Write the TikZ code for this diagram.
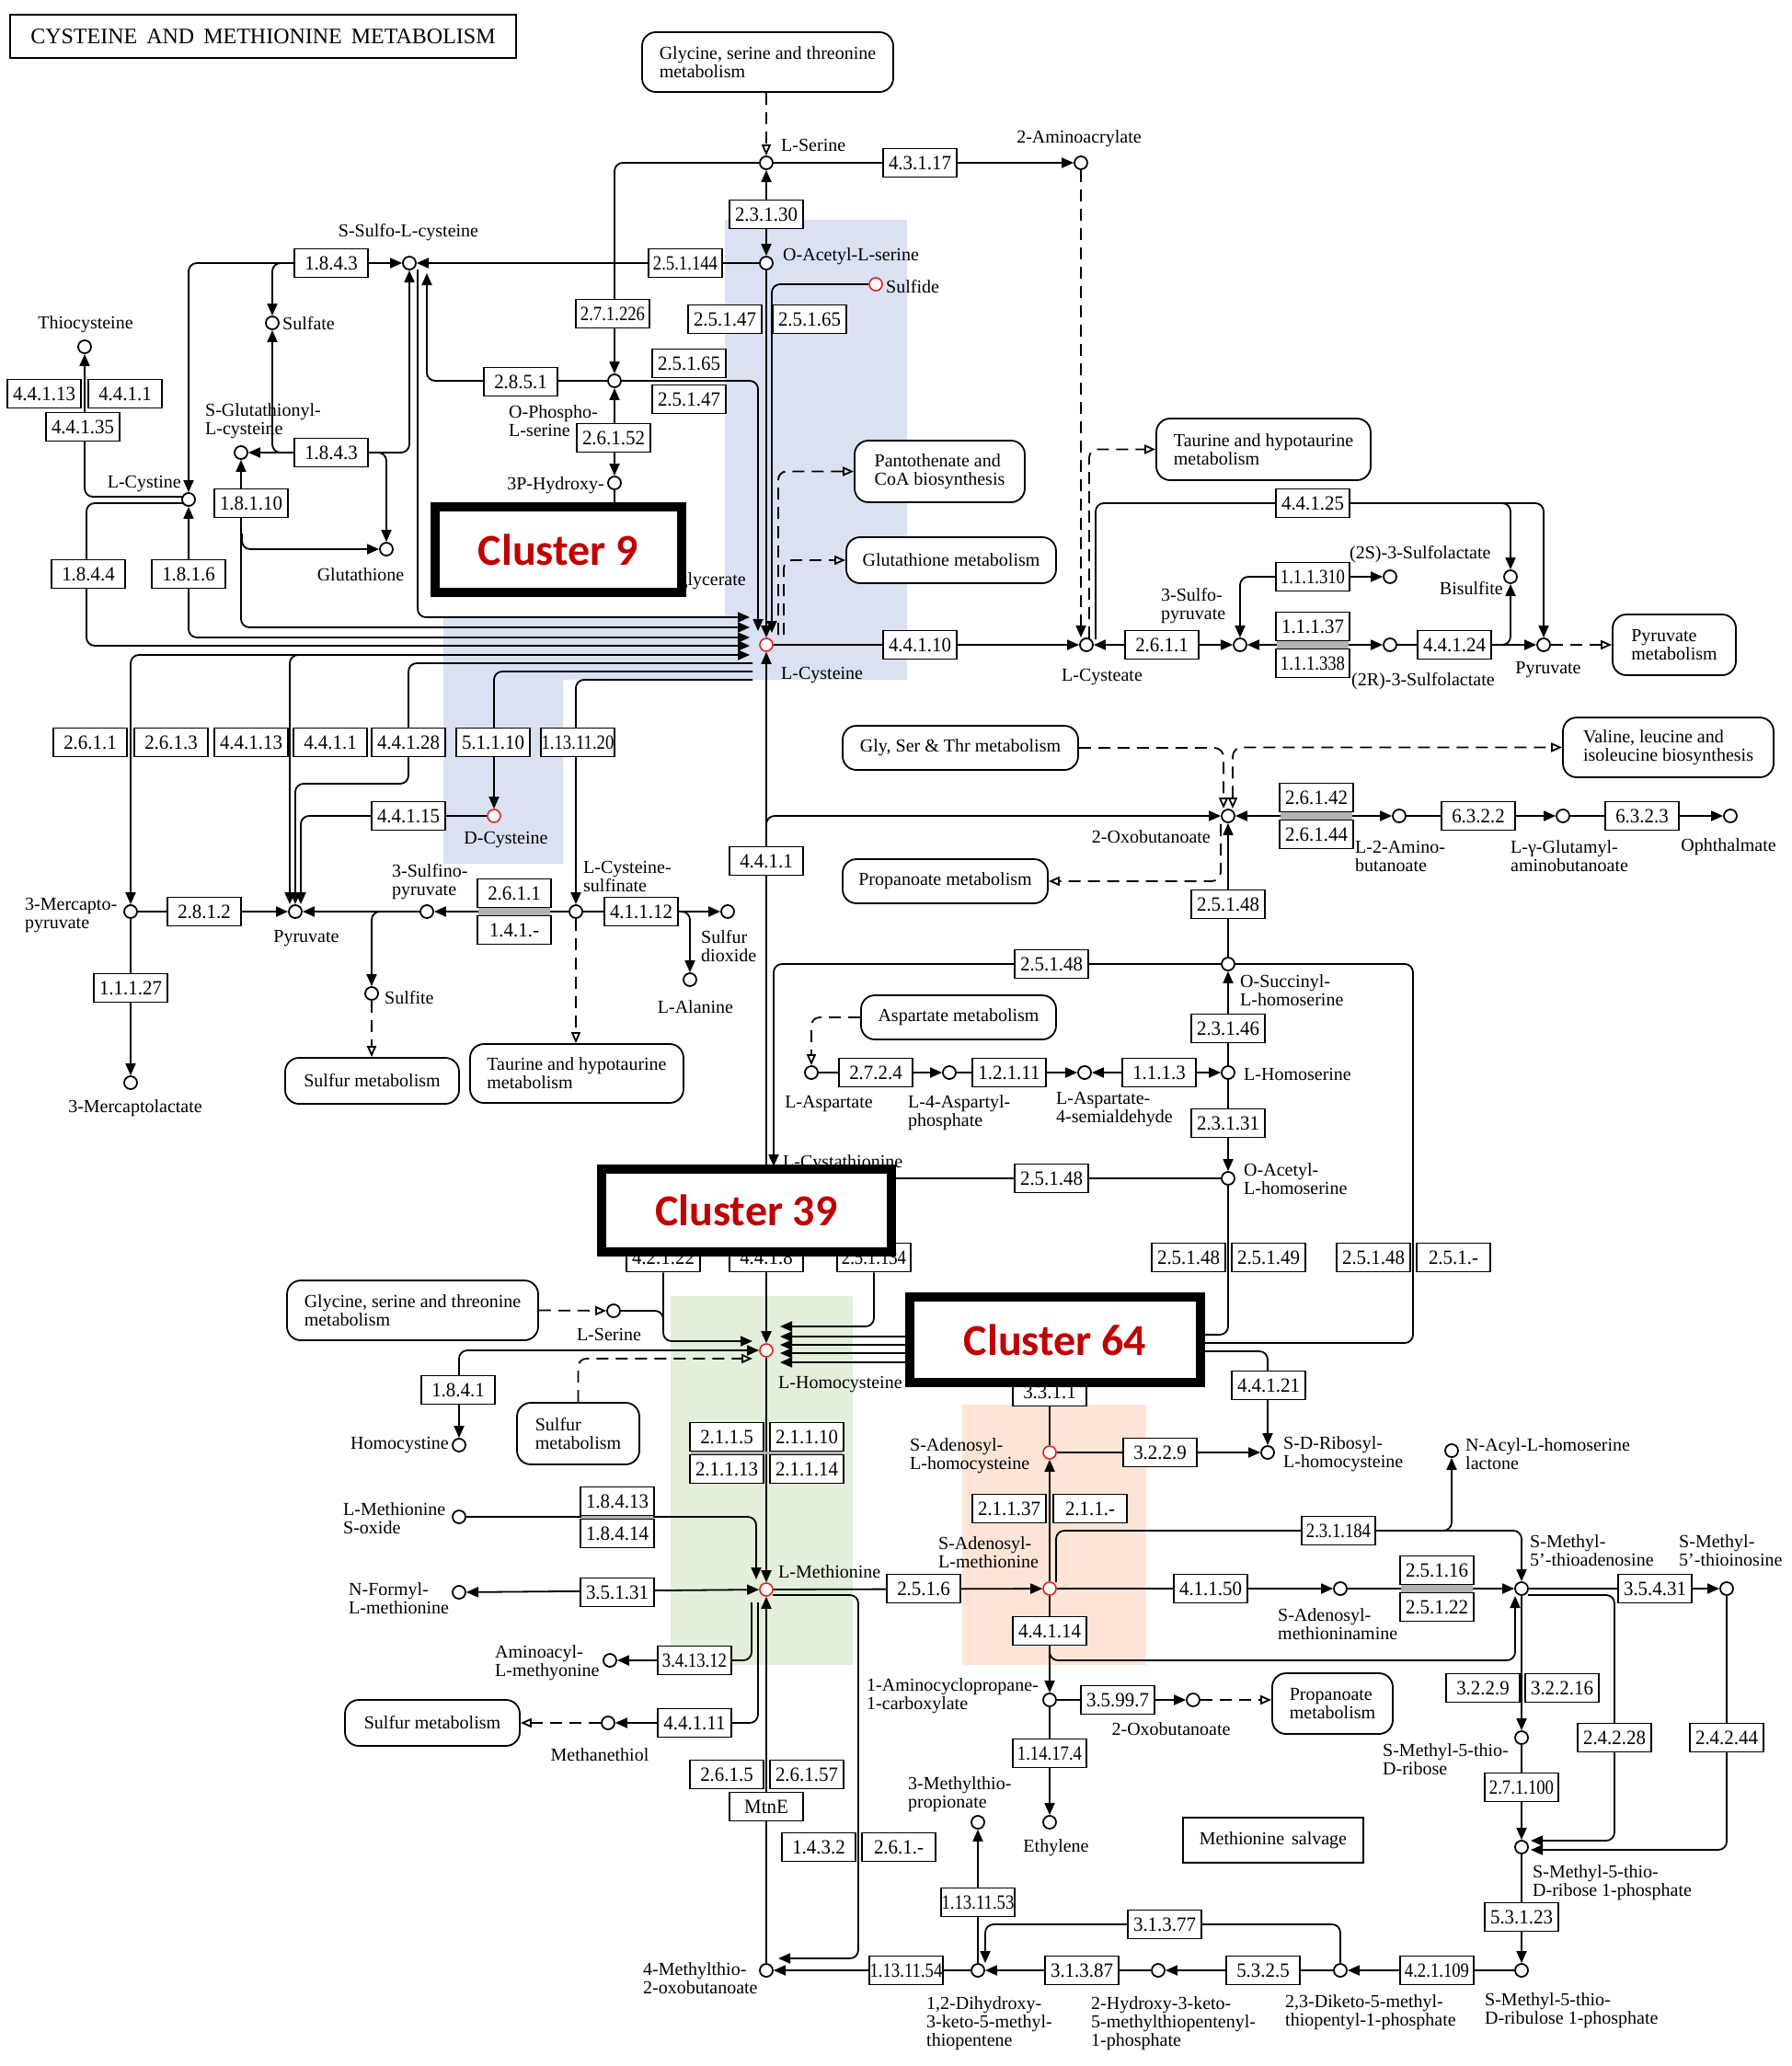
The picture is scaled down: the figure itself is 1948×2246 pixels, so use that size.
\documentclass[tikz,border=0pt]{standalone}
\usepackage{fontspec}
\setmainfont{Liberation Serif}
\newfontfamily\ecnorm{Liberation Serif}[FakeStretch=0.95]
\newfontfamily\ecnarr{Liberation Serif}[FakeStretch=0.85]
\newfontfamily\clfont{Carlito}
\usetikzlibrary{arrows.meta}
\definecolor{shblue}{RGB}{217,225,242}
\definecolor{shgreen}{RGB}{226,239,218}
\definecolor{shorange}{RGB}{252,228,214}
\definecolor{clred}{RGB}{192,0,0}
\definecolor{cpdred}{RGB}{230,30,30}
\pgfdeclarelayer{shade}
\pgfdeclarelayer{lines}
\pgfdeclarelayer{top}
\pgfsetlayers{shade,lines,main,top}
\tikzset{
  cpd/.style={circle,draw,line width=1.8pt,fill=white,minimum size=14pt,inner sep=0pt},
  rcpd/.style={cpd,draw=cpdred,line width=1.6pt},
  ec/.style={draw,line width=1.6pt,fill=white,minimum width=80pt,minimum height=31pt,inner sep=0pt,font=\ecnorm\fontsize{22}{22}\selectfont},
  ecn/.style={ec,font=\ecnarr\fontsize{22}{22}\selectfont},
  pbox/.style={draw,line width=1.8pt,rounded corners=15pt,fill=white,align=left,inner sep=0pt,font=\fontsize{20}{20}\selectfont},
  lab/.style={inner sep=0pt,align=left,font=\fontsize{20}{20}\selectfont},
  labr/.style={lab,align=right},
  labc/.style={lab,align=center},
  ln/.style={line width=1.8pt,rounded corners=9pt},
  dsh/.style={ln,dash pattern=on 13pt off 8pt},
  ar/.style={-{Triangle[length=13pt,width=11pt]}},
  ra/.style={{Triangle[length=13pt,width=11pt]}-},
  br/.style={{Triangle[length=13pt,width=11pt]}-{Triangle[length=13pt,width=11pt]}},
  oa/.style={-{Triangle[open,length=12pt,width=10pt]}},
  ob/.style={{Triangle[open,length=12pt,width=10pt]}-{Triangle[open,length=12pt,width=10pt]}},
  cluster/.style={draw,line width=10pt,fill=white,inner sep=0pt,font=\clfont\bfseries\fontsize{48}{48}\selectfont,text=clred},
}
\begin{document}
\begin{tikzpicture}[x=1pt,y=-1pt]
\useasboundingbox (0,0) rectangle (1948,2246);
\begin{pgfonlayer}{shade}
\fill[white] (0,0) rectangle (1948,2246);
\fill[shblue] (482,671) -- (788,671) -- (788,239) -- (986,239) -- (986,739) -- (612,739) -- (612,939) -- (482,939) -- cycle;
\fill[shgreen] (729,1409) rectangle (927,1810);
\fill[shorange] (1046,1527) rectangle (1246,1810);
\end{pgfonlayer}

% title
\node[draw,line width=2.5pt,minimum width=550pt,minimum height=47pt,inner sep=0pt,font=\fontsize{24}{24}\selectfont] (title) at (286,39.5) {CYSTEINE\hspace{10pt}AND\hspace{10pt}METHIONINE\hspace{10pt}METABOLISM};

% ---------- compounds ----------
\node[cpd] (ssulfo) at (445,286) {};
\node[cpd] (sulfate) at (296,351) {};
\node[cpd] (sglut) at (262,492) {};
\node[cpd] (gsh) at (420,597) {};
\node[cpd] (lcystine) at (205,543) {};
\node[cpd] (thiocys) at (92,377) {};
\node[cpd] (lser) at (833,177) {};
\node[cpd] (aacr) at (1175,177) {};
\node[cpd] (oas) at (833,286) {};
\node[rcpd] (sulfide) at (952,309) {};
\node[cpd] (ops) at (668,414) {};
\node[cpd] (php) at (668,525) {};
\node[rcpd] (lcys) at (833,701) {};
\node[cpd] (lcya) at (1181,701) {};
\node[cpd] (spyr) at (1348,701) {};
\node[cpd] (ssl) at (1511,627) {};
\node[cpd] (rsl) at (1511,701) {};
\node[cpd] (bisulf) at (1642,627) {};
\node[cpd] (pyr2) at (1678,701) {};
\node[rcpd] (dcys) at (537,887) {};
\node[cpd] (mpyr) at (142,991) {};
\node[cpd] (pyr1) at (321,991) {};
\node[cpd] (sfpyr) at (464,991) {};
\node[cpd] (csa) at (626,991) {};
\node[cpd] (so2) at (791,991) {};
\node[cpd] (lala) at (750,1065) {};
\node[cpd] (sulfite) at (404,1080) {};
\node[cpd] (mlac) at (142,1177) {};
\node[cpd] (oxb1) at (1335,887) {};
\node[cpd] (abut) at (1521,887) {};
\node[cpd] (gab) at (1699,887) {};
\node[cpd] (oph) at (1881,887) {};
\node[cpd] (osh) at (1335,1048) {};
\node[cpd] (lhs) at (1335,1166) {};
\node[cpd] (oah) at (1335,1281) {};
\node[cpd] (lasp) at (882,1166) {};
\node[cpd] (asph) at (1032,1166) {};
\node[cpd] (assa) at (1179,1166) {};
\node[cpd] (cysth) at (833,1281) {};
\node[cpd] (lser2) at (667,1425) {};
\node[rcpd] (hcys) at (833,1468) {};
\node[cpd] (hcyst) at (499,1571) {};
\node[rcpd] (sah) at (1141,1579) {};
\node[cpd] (srh) at (1378,1579) {};
\node[cpd] (nacyl) at (1578,1577) {};
\node[cpd] (metso) at (499,1649) {};
\node[rcpd] (met) at (833,1728) {};
\node[cpd] (fmet) at (499,1731) {};
\node[rcpd] (sam) at (1141,1727) {};
\node[cpd] (dsam) at (1457,1727) {};
\node[cpd] (mta) at (1654,1727) {};
\node[cpd] (mti) at (1877,1727) {};
\node[cpd] (aamet) at (663,1805) {};
\node[cpd] (msh) at (661,1873) {};
\node[cpd] (acc) at (1141,1848) {};
\node[cpd] (oxb2) at (1297,1848) {};
\node[cpd] (eth) at (1141,1981) {};
\node[cpd] (mtp) at (1063,1981) {};
\node[cpd] (mtob) at (833,2142) {};
\node[cpd] (dhk) at (1063,2142) {};
\node[cpd] (hk) at (1259,2142) {};
\node[cpd] (dk) at (1457,2142) {};
\node[cpd] (mtru) at (1654,2142) {};
\node[cpd] (mtr1p) at (1654,2008) {};
\node[cpd] (mtr) at (1654,1889) {};

% ---------- compound labels ----------
\node[labc] (t-ssulfo) at (444,253) {S-Sulfo-L-cysteine};
\node[lab,anchor=west] (t-sulfate) at (307,352) {Sulfate};
\node[lab,anchor=west] (t-sglut) at (223,458) {S-Glutathionyl-\\L-cysteine};
\node[labc] (t-gsh) at (392,625) {Glutathione};
\node[labr,anchor=east] (t-lcystine) at (197,526) {L-Cystine};
\node[labc] (t-thiocys) at (93,353) {Thiocysteine};
\node[lab,anchor=west] (t-lser) at (849,158) {L-Serine};
\node[labc] (t-aacr) at (1173,151) {2-Aminoacrylate};
\node[lab,anchor=west] (t-oas) at (851,279) {O-Acetyl-L-serine};
\node[lab,anchor=west] (t-sulfide) at (963,312) {Sulfide};
\node[lab,anchor=west] (t-ops) at (553,458) {O-Phospho-\\L-serine};
\node[labr,anchor=north east] (t-php) at (657,518) {3P-Hydroxy-\\[7pt]pyruvate};
\node[labr,anchor=east] (t-pga) at (811,632) {3-Phospho-D-glycerate};
\node[lab,anchor=west] (t-lcys) at (849,734) {L-Cysteine};
\node[labc] (t-lcya) at (1198,736) {L-Cysteate};
\node[lab,anchor=west] (t-spyr) at (1262,659) {3-Sulfo-\\pyruvate};
\node[lab,anchor=west] (t-ssl) at (1467,603) {(2S)-3-Sulfolactate};
\node[lab,anchor=west] (t-rsl) at (1469,741) {(2R)-3-Sulfolactate};
\node[labr,anchor=east] (t-bisulf) at (1634,640) {Bisulfite};
\node[labc] (t-pyr2) at (1683,728) {Pyruvate};
\node[labc] (t-dcys) at (550,913) {D-Cysteine};
\node[lab,anchor=west] (t-mpyr) at (27,995) {3-Mercapto-\\pyruvate};
\node[labc] (t-pyr1) at (333,1020) {Pyruvate};
\node[lab,anchor=west] (t-sfpyr) at (426,959) {3-Sulfino-\\pyruvate};
\node[lab,anchor=west] (t-csa) at (634,953) {L-Cysteine-\\sulfinate};
\node[lab,anchor=west] (t-so2) at (762,1029) {Sulfur\\dioxide};
\node[labc] (t-lala) at (756,1095) {L-Alanine};
\node[lab,anchor=west] (t-sulfite) at (418,1085) {Sulfite};
\node[labc] (t-mlac) at (147,1205) {3-Mercaptolactate};
\node[labr,anchor=east] (t-oxb1) at (1316,910) {2-Oxobutanoate};
\node[lab,anchor=west] (t-abut) at (1473,931) {L-2-Amino-\\butanoate};
\node[lab,anchor=west] (t-gab) at (1642,931) {L-γ-Glutamyl-\\aminobutanoate};
\node[labc] (t-oph) at (1879,921) {Ophthalmate};
\node[lab,anchor=west] (t-osh) at (1348,1077) {O-Succinyl-\\L-homoserine};
\node[lab,anchor=west] (t-lhs) at (1352,1168) {L-Homoserine};
\node[lab,anchor=west] (t-oah) at (1352,1282) {O-Acetyl-\\L-homoserine};
\node[labc] (t-lasp) at (901,1200) {L-Aspartate};
\node[lab,anchor=west] (t-asph) at (987,1210) {L-4-Aspartyl-\\phosphate};
\node[lab,anchor=west] (t-assa) at (1148,1206) {L-Aspartate-\\4-semialdehyde};
\node[lab,anchor=west] (t-cysth) at (851,1265) {L-Cystathionine};
\node[labc] (t-lser2) at (662,1451) {L-Serine};
\node[lab,anchor=west] (t-hcys) at (846,1505) {L-Homocysteine};
\node[labr,anchor=east] (t-hcyst) at (488,1571) {Homocystine};
\node[lab,anchor=west] (t-sah) at (989,1583) {S-Adenosyl-\\L-homocysteine};
\node[lab,anchor=west] (t-srh) at (1395,1581) {S-D-Ribosyl-\\L-homocysteine};
\node[lab,anchor=west] (t-nacyl) at (1593,1581) {N-Acyl-L-homoserine\\lactone};
\node[lab,anchor=west] (t-metso) at (373,1651) {L-Methionine\\S-oxide};
\node[lab,anchor=west] (t-met) at (846,1709) {L-Methionine};
\node[lab,anchor=west] (t-fmet) at (379,1738) {N-Formyl-\\L-methionine};
\node[lab,anchor=west] (t-sam) at (1020,1688) {S-Adenosyl-\\L-methionine};
\node[lab,anchor=west] (t-dsam) at (1389,1766) {S-Adenosyl-\\methioninamine};
\node[lab,anchor=west] (t-mta) at (1663,1686) {S-Methyl-\\5'-thioadenosine};
\node[lab,anchor=west] (t-mti) at (1825,1686) {S-Methyl-\\5'-thioinosine};
\node[lab,anchor=west] (t-aamet) at (538,1808) {Aminoacyl-\\L-methyonine};
\node[labc] (t-msh) at (652,1908) {Methanethiol};
\node[lab,anchor=west] (t-acc) at (942,1844) {1-Aminocyclopropane-\\1-carboxylate};
\node[labc] (t-oxb2) at (1273,1880) {2-Oxobutanoate};
\node[labc] (t-eth) at (1148,2009) {Ethylene};
\node[lab,anchor=west] (t-mtp) at (987,1951) {3-Methylthio-\\propionate};
\node[lab,anchor=west] (t-mtob) at (699,2151) {4-Methylthio-\\2-oxobutanoate};
\node[lab,anchor=west] (t-dhk) at (1007,2200) {1,2-Dihydroxy-\\3-keto-5-methyl-\\thiopentene};
\node[lab,anchor=west] (t-hk) at (1186,2200) {2-Hydroxy-3-keto-\\5-methylthiopentenyl-\\1-phosphate};
\node[lab,anchor=west] (t-dk) at (1397,2188) {2,3-Diketo-5-methyl-\\thiopentyl-1-phosphate};
\node[lab,anchor=west] (t-mtru) at (1614,2186) {S-Methyl-5-thio-\\D-ribulose 1-phosphate};
\node[lab,anchor=west] (t-mtr1p) at (1666,2047) {S-Methyl-5-thio-\\D-ribose 1-phosphate};
\node[lab,anchor=west] (t-mtr) at (1503,1913) {S-Methyl-5-thio-\\D-ribose};

% ---------- map boxes ----------
\node[pbox,minimum width=273pt,minimum height=65pt] (gsttop) at (834.5,67.5) {Glycine, serine and threonine\\metabolism};
\node[pbox,minimum width=185pt,minimum height=67pt] (panto) at (1021.5,512.5) {Pantothenate and\\CoA biosynthesis};
\node[pbox,minimum width=233pt,minimum height=67pt] (tautop) at (1373.5,488.5) {Taurine and hypotaurine\\metabolism};
\node[pbox,minimum width=228pt,minimum height=50pt] (glutmet) at (1034,609) {Glutathione metabolism};
\node[pbox,minimum width=134pt,minimum height=66pt] (pyrmet) at (1820,701) {Pyruvate\\metabolism};
\node[pbox,minimum width=256pt,minimum height=48pt] (gstshort) at (1044,813) {Gly, Ser \& Thr metabolism};
\node[pbox,minimum width=229pt,minimum height=65pt] (valine) at (1813.5,812.5) {Valine, leucine and\\isoleucine biosynthesis};
\node[pbox,minimum width=223pt,minimum height=48pt] (propmet1) at (1027.5,958) {Propanoate metabolism};
\node[pbox,minimum width=212pt,minimum height=48pt] (aspmet) at (1042,1106) {Aspartate metabolism};
\node[pbox,minimum width=189pt,minimum height=50pt] (sulfmet1) at (404.5,1175) {Sulfur metabolism};
\node[pbox,minimum width=232pt,minimum height=64pt] (tau2) at (627,1167) {Taurine and hypotaurine\\metabolism};
\node[pbox,minimum width=273pt,minimum height=65pt] (gst2) at (448.5,1424.5) {Glycine, serine and threonine\\metabolism};
\node[pbox,minimum width=133pt,minimum height=67pt] (sulfmet2) at (628.5,1558.5) {Sulfur\\metabolism};
\node[pbox,minimum width=190pt,minimum height=50pt] (sulfmet3) at (470,1873) {Sulfur metabolism};
\node[pbox,minimum width=131pt,minimum height=66pt] (propmet2) at (1448.5,1852) {Propanoate\\metabolism};
\node[pbox,rounded corners=0pt,minimum width=196pt,minimum height=49pt] (metsalv) at (1384,2000.5) {Methionine\hspace{8pt}salvage};

% ---------- enzyme boxes ----------
\node[ec] (e1843a) at (360,286) {1.8.4.3};
\node[ec] (e1843b) at (360,492) {1.8.4.3};
\node[ec] (e18110) at (273,547) {1.8.1.10};
\node[ec] (e44113a) at (48,428) {4.4.1.13};
\node[ec] (e4411a) at (136,428) {4.4.1.1};
\node[ec] (e44135) at (90,464) {4.4.1.35};
\node[ec] (e1844) at (96,624) {1.8.4.4};
\node[ec] (e1816) at (205,624) {1.8.1.6};
\node[ec] (e4317) at (1000,177) {4.3.1.17};
\node[ec] (e23130) at (833,233) {2.3.1.30};
\node[ecn] (e251144) at (745,286) {2.5.1.144};
\node[ecn] (e271226) at (666,341) {2.7.1.226};
\node[ec] (e2851) at (566,415) {2.8.5.1};
\node[ec] (e26152) at (667,476) {2.6.1.52};
\node[ec] (e25147a) at (788,347) {2.5.1.47};
\node[ec] (e25165a) at (880,347) {2.5.1.65};
\node[ec] (e25165b) at (749,395) {2.5.1.65};
\node[ec] (e25147b) at (749,434) {2.5.1.47};
\node[ec] (e44110) at (1000,701) {4.4.1.10};
\node[ec] (e2611a) at (1263,701) {2.6.1.1};
\node[ecn] (e111310) at (1427,627) {1.1.1.310};
\node[ec] (e11137) at (1427,681) {1.1.1.37};
\node[ecn] (e111338) at (1427,721) {1.1.1.338};
\node[ec] (e44124) at (1581,701) {4.4.1.24};
\node[ec] (e44125) at (1427,547) {4.4.1.25};
\node[ec] (e2611b) at (98,807) {2.6.1.1};
\node[ec] (e2613) at (186,807) {2.6.1.3};
\node[ec] (e44113b) at (273,807) {4.4.1.13};
\node[ec] (e4411b) at (359,807) {4.4.1.1};
\node[ec] (e44128) at (444,807) {4.4.1.28};
\node[ec] (e51110) at (536,807) {5.1.1.10};
\node[ecn] (e1131120) at (628,807) {1.13.11.20};
\node[ec] (e44115) at (444,887) {4.4.1.15};
\node[ec] (e2812) at (222,991) {2.8.1.2};
\node[ec] (e11127) at (142,1074) {1.1.1.27};
\node[ec] (e2611c) at (559,971) {2.6.1.1};
\node[ec] (e141) at (559,1011) {1.4.1.-};
\node[ec] (e41112) at (697,991) {4.1.1.12};
\node[ec] (e4411c) at (833,936) {4.4.1.1};
\node[ec] (e25148a) at (1143,1048) {2.5.1.48};
\node[ec] (e25148b) at (1335,983) {2.5.1.48};
\node[ec] (e26142) at (1431,867) {2.6.1.42};
\node[ec] (e26144) at (1431,907) {2.6.1.44};
\node[ec] (e6322) at (1607,887) {6.3.2.2};
\node[ec] (e6323) at (1785,887) {6.3.2.3};
\node[ec] (e23146) at (1335,1118) {2.3.1.46};
\node[ec] (e2724) at (952,1166) {2.7.2.4};
\node[ec] (e12111) at (1097,1166) {1.2.1.11};
\node[ec] (e1113) at (1260,1166) {1.1.1.3};
\node[ec] (e23131) at (1335,1221) {2.3.1.31};
\node[ec] (e25148c) at (1143,1281) {2.5.1.48};
\node[ec] (e25148d) at (1292,1367) {2.5.1.48};
\node[ec] (e25149) at (1379,1367) {2.5.1.49};
\node[ec] (e25148e) at (1493,1367) {2.5.1.48};
\node[ec] (e251x) at (1580,1367) {2.5.1.-};
\node[ec] (hb1) at (721,1367) {4.2.1.22};
\node[ec] (hb2) at (833,1367) {4.4.1.8};
\node[ecn] (hb3) at (950,1367) {2.5.1.134};
\node[ec] (e1841) at (498,1511) {1.8.4.1};
\node[ec] (e3311) at (1141,1513) {3.3.1.1};
\node[ec] (e44121) at (1379,1506) {4.4.1.21};
\node[ec] (e2115) at (790,1562) {2.1.1.5};
\node[ec] (e21110) at (877,1562) {2.1.1.10};
\node[ec] (e21113) at (790,1597) {2.1.1.13};
\node[ec] (e21114) at (877,1597) {2.1.1.14};
\node[ec] (e3229a) at (1261,1579) {3.2.2.9};
\node[ec] (e21137) at (1097,1640) {2.1.1.37};
\node[ec] (e211x) at (1185,1640) {2.1.1.-};
\node[ecn] (e231184) at (1455,1664) {2.3.1.184};
\node[ec] (e18413) at (671,1632) {1.8.4.13};
\node[ec] (e18414) at (671,1667) {1.8.4.14};
\node[ec] (e35131) at (671,1731) {3.5.1.31};
\node[ec] (e2516) at (1004,1727) {2.5.1.6};
\node[ec] (e41150) at (1316,1727) {4.1.1.50};
\node[ec] (e25116) at (1562,1707) {2.5.1.16};
\node[ec] (e25122) at (1562,1747) {2.5.1.22};
\node[ec] (e35431) at (1799,1727) {3.5.4.31};
\node[ec] (e44114) at (1141,1773) {4.4.1.14};
\node[ecn] (e341312) at (755,1805) {3.4.13.12};
\node[ec] (e44111) at (755,1873) {4.4.1.11};
\node[ec] (e35997) at (1215,1848) {3.5.99.7};
\node[ec] (e3229b) at (1612,1835) {3.2.2.9};
\node[ec] (e32216) at (1698,1835) {3.2.2.16};
\node[ec] (e24228) at (1755,1889) {2.4.2.28};
\node[ec] (e24244) at (1877,1889) {2.4.2.44};
\node[ecn] (e114174) at (1141,1906) {1.14.17.4};
\node[ec] (e2615) at (790,1929) {2.6.1.5};
\node[ec] (e26157) at (877,1929) {2.6.1.57};
\node[ec] (emtne) at (833,1964) {MtnE};
\node[ec] (e1432) at (890,2008) {1.4.3.2};
\node[ec] (e261x) at (977,2008) {2.6.1.-};
\node[ecn] (e1131153) at (1063,2068) {1.13.11.53};
\node[ecn] (e271100) at (1654,1943) {2.7.1.100};
\node[ec] (e53123) at (1654,2084) {5.3.1.23};
\node[ec] (e31377) at (1266,2092) {3.1.3.77};
\node[ecn] (e1131154) at (985,2142) {1.13.11.54};
\node[ec] (e31387) at (1176,2142) {3.1.3.87};
\node[ec] (e5325) at (1373,2142) {5.3.2.5};
\node[ecn] (e421109) at (1562,2142) {4.2.1.109};

% ---------- connectors ----------
\begin{pgfonlayer}{lines}
% top left
\draw[ln,br] (lcystine) |- (ssulfo);
\draw[ln,ar] (314,286) -| (sulfate);
\draw[ln,br] (sglut) -| (ssulfo);
\draw[ln,ar] (308,492) -| (sulfate);
\draw[ln,ar] (410,492) -| (gsh);
\draw[ln,br] (815,682) -| (sglut);
\draw[ln,ar] (263,580) |- (gsh);
\draw[ln,br] (815,693) -| (lcystine);
\draw[ln,ar] (199,547) -- (94,547) -- (94,702) -- (815,702);
\draw[ln,ra] (thiocys) -- (92,540) -- (199,540);
\draw[ln,ar] (454,293) -- (454,671) -- (815,671);
\draw[ln,ar] (ops) -| (464,297);
\draw[ln,ar] (oas) -- (ssulfo);
\draw[ln,ar] (lser) -- (aacr);
\draw[ln,ar] (lser) -| (ops);
\draw[ln,br] (lser) -- (oas);
\draw[dsh,oa] (gsttop.south -| lser) -- (lser);
\draw[ln,br] (ops) -- (php);
\draw[ln] (php) -- (668,600);
\draw[ln,ar] (ops) -| (824,686);
\draw[ln,ar] (oas) -- (lcys);
\draw[ln,ar] (sulfide) -| (839,688);
\draw[dsh,oa] (846,690) |- (panto.west);
\draw[dsh,oa] (852,690) |- (glutmet.west);
% L-Cysteine right
\draw[ln,ar] (lcys) -- (lcya);
\draw[ln,br] (lcya) -- (spyr);
\draw[dsh,ar] (aacr) -- (1175,693);
\draw[dsh,oa] (1184,694) |- (tautop.west);
\draw[ln,ar] (1191,695) |- (1678,547) -- (pyr2);
\draw[ln,ar] (1630,547) -| (bisulf);
\draw[ln,br] (spyr) |- (ssl);
\draw[ln,br] (spyr) -- (rsl);
\draw[ln,ar] (rsl) -- (pyr2);
\draw[ln,ar] (1630,701) -| (bisulf);
\draw[dsh,oa] (pyr2) -- (pyrmet);
% bundle to the left
\draw[ln,br] (815,712) -| (mpyr);
\draw[ln,ar] (330,712) -| (315,983);
\draw[ln,ar] (818,721) -- (444,721) -- (444,852) -- (321,852) -- (321,983);
\draw[ln,ar] (dcys) -- (327,887) -- (327,983);
\draw[ln,ar] (818,730) -| (dcys);
\draw[ln,ar] (818,739) -| (csa);
\draw[ln,ar] (mpyr) -- (pyr1);
\draw[ln,ar] (mpyr) -- (mlac);
\draw[ln,ar] (csa) -- (sfpyr);
\draw[ln,ar] (sfpyr) -- (pyr1);
\draw[ln,ar] (416,991) -| (sulfite);
\draw[dsh,oa] (sulfite) -- (sulfite |- sulfmet1.north);
\draw[ln,ar] (csa) -- (so2);
\draw[ln,ar] (738,991) -| (lala);
\draw[dsh,oa] (csa) -- (csa |- tau2.north);
% center column
\draw[ln,ar] (cysth) -- (lcys);
\draw[ln,ar] (833,902) |- (oxb1);
\draw[ln,ar] (osh) -| (841,1268);
\draw[ln,ar] (oah) -- (cysth);
\draw[ln,ar] (osh) -- (oxb1);
\draw[ln,ar] (lhs) -- (osh);
\draw[ln,ar] (lhs) -- (oah);
\draw[ln,br] (oxb1) -- (abut);
\draw[ln,ar] (abut) -- (gab);
\draw[ln,ar] (gab) -- (oph);
\draw[dsh,oa,rounded corners=10pt] (gstshort.east) -| (1330,879);
\draw[dsh,ob,rounded corners=10pt] (1340,879) |- (valine.west);
\draw[dsh,oa,rounded corners=10pt] (1327,896) |- (propmet1.east);
\draw[dsh,oa] (aspmet.west) -| (lasp);
\draw[ln,ar] (lasp) -- (asph);
\draw[ln,ar] (asph) -- (assa);
\draw[ln,br] (assa) -- (lhs);
\draw[ln] (oah) |- (1290,1451);
\draw[ln] (osh) -- (1536,1048) -- (1536,1460) -- (1290,1460);
\draw[ln,ar] (1290,1469) -| (srh);
% homocysteine
\draw[ln,ar] (hb3.south) |- (848,1442);
\draw[ln,ar] (hb2) -- (hcys);
\draw[ln,ar] (hb1.south) |- (818,1458);
\draw[ln] (lser2) -| (721,1442);
\draw[ln,br] (hcyst) |- (hcys);
\draw[dsh,oa] (sulfmet2.north) |- (818,1477);
\draw[dsh,oa] (gst2.east) -- (lser2);
\foreach \yy in {1453,1462,1471,1481} \draw[ln,ar] (1000,\yy) -- (848,\yy);
\draw[ln,ar] (hcys) -- (met);
\draw[ln] (sah) -- (1141,1490);
\draw[ln,ar] (sah) -- (srh);
\draw[ln,ar] (sam) -- (sah);
\draw[ln,ar] (met) -- (sam);
\draw[ln,ar] (sam) -- (dsam);
\draw[ln,ar] (dsam) -- (mta);
\draw[ln,ar] (1148,1720) |- (1654,1664) -- (mta);
\draw[ln,ar] (1565,1664) -| (nacyl);
\draw[ln,ar] (sam) -- (acc);
\draw[ln,ar] (1141,1790) |- (1647,1805) -- (1647,1735);
\draw[ln,ar] (acc) -- (oxb2);
\draw[dsh,oa] (oxb2) -- (oxb2 -| propmet2.west);
\draw[ln,ar] (acc) -- (eth);
\draw[ln,ar] (mta) -- (mti);
\draw[ln,ar] (1661,1734) -- (1755,1734) -- (1755,2001) -- (1664,2001);
\draw[ln,ar] (mti) -- (1877,2011) -- (1664,2011);
\draw[ln,ar] (mta) -- (mtr);
\draw[ln,ar] (mtr) -- (mtr1p);
\draw[ln,ar] (mtr1p) -- (mtru);
\draw[ln,ar] (mtru) -- (dk);
\draw[ln,ar] (dk) -- (hk);
\draw[ln,ar] (hk) -- (dhk);
\draw[ln,ar] (dk) |- (1071,2092) -- (1071,2134);
\draw[ln,ar] (dhk) -- (mtp);
\draw[ln,ar] (dhk) -- (mtob);
\draw[ln,ar] (840,1734) -- (933,1734) -- (933,2129) -- (846,2129);
\draw[ln,ar] (mtob) -- (met);
\draw[ln,br] (fmet) -- (met);
\draw[ln,ar] (metso) -| (822,1717);
\draw[ln,ar] (817,1742) |- (aamet);
\draw[ln,ar] (824,1742) |- (msh);
\draw[dsh,oa] (msh) -- (sulfmet3.east);
% grey bars between stacked enzyme boxes
\fill[gray!60] (1388,697) rectangle (1466,705);
\fill[gray!60] (1392,883) rectangle (1470,891);
\fill[gray!60] (520,987) rectangle (598,995);
\fill[gray!60] (1523,1723) rectangle (1601,1731);
\fill[gray!60] (632,1648) rectangle (710,1651);
\fill[gray!60] (751,1578) rectangle (916,1581);
\end{pgfonlayer}

% ---------- cluster boxes ----------
\begin{pgfonlayer}{top}
\node[cluster,minimum width=268pt,minimum height=93pt] (cl9) at (607,597.5) {Cluster 9};
\node[cluster,minimum width=315pt,minimum height=90pt] (cl39) at (811.5,1316) {Cluster 39};
\node[cluster,minimum width=316pt,minimum height=93pt] (cl64) at (1147,1456.5) {Cluster 64};
\end{pgfonlayer}
\end{tikzpicture}
\end{document}
